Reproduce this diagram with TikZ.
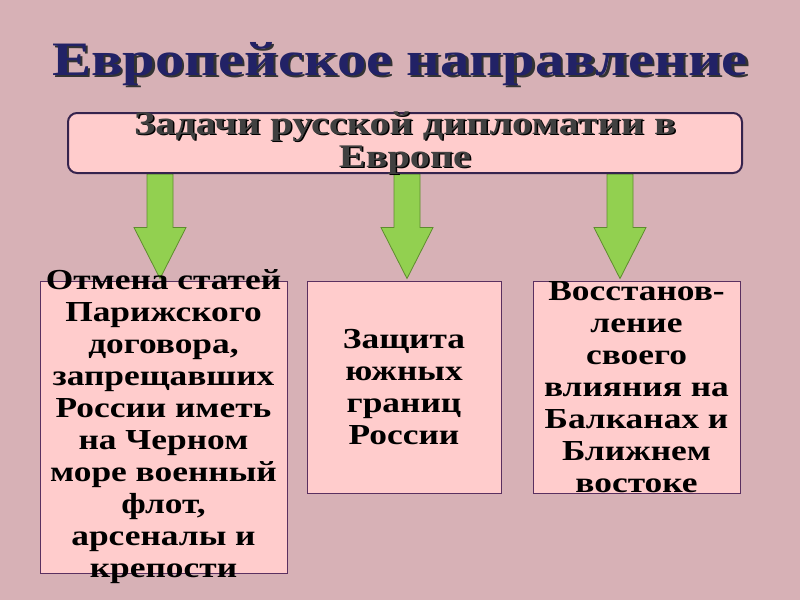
\documentclass[tikz,border=0pt]{standalone}
\usepackage{fontspec}
\newfontfamily\slidefont{Liberation Serif}[FakeStretch=1.22]
\usetikzlibrary{calc,backgrounds}
\definecolor{slidebg}{HTML}{D7B1B6}
\definecolor{boxfill}{HTML}{FFCCCC}
\definecolor{boxline}{HTML}{5A3060}
\definecolor{taskline}{HTML}{35234D}
\definecolor{titleblue}{HTML}{222266}
\definecolor{tasktext}{HTML}{404040}
\definecolor{arrowfill}{HTML}{92D050}
\definecolor{arrowline}{HTML}{5E8C2E}
\begin{document}
\begin{tikzpicture}
[x=1pt,y=-1pt,
  titledecorate/.style={anchor=base,inner sep=0pt,font=\slidefont\bfseries\fontsize{48}{52}\selectfont},%
  taskdecorate/.style={shape=rectangle,rounded corners=9pt,draw=taskline,line width=2pt,fill=boxfill,
    minimum width=674pt,minimum height=60pt,inner sep=0pt},%
  tasktextdecorate/.style={align=center,inner sep=0pt,font=\slidefont\bfseries\fontsize{33}{33}\selectfont},%
  goaldecorate/.style={shape=rectangle,draw=boxline,line width=0.9pt,fill=boxfill,inner sep=0pt},%
  goaltextdecorate/.style={align=center,inner sep=0pt,font=\slidefont\bfseries\fontsize{29}{32}\selectfont},%
  arrowdecorate/.style={fill=arrowfill,draw=arrowline,line width=0.8pt,line join=miter},%
  scale=1]
\useasboundingbox (0,0) rectangle (800,600);
%% title
\node (titleshadow) at (402.5,77.5) [titledecorate,text=black!80] {Европейское направление};
\node (title) at (400,75) [titledecorate,text=titleblue] {Европейское направление};
%% top box
\node (task) at (405,143) [taskdecorate] {};
\node (taskshadow) at ([shift={(1.5,1.5)}]task.center) [tasktextdecorate,text=black] {Задачи русской дипломатии в\\Европе};
\node (tasklabel) at (task.center) [tasktextdecorate,text=tasktext] {Задачи русской дипломатии в\\Европе};
%% boxes
\foreach \nodename/\x/\y/\w/\h in {goal1/163.5/427/247/292, goal2/404/387/194/212, goal3/636.5/387/207/212} {
  \node (\nodename) at (\x,\y) [goaldecorate,minimum width=\w pt,minimum height=\h pt] {};
}
\node (goal1label) at (goal1.center) [goaltextdecorate] {Отмена статей\\Парижского\\договора,\\запрещавших\\России иметь\\на Черном\\море военный\\флот,\\арсеналы и\\крепости};
\node (goal2label) at (goal2.center) [goaltextdecorate] {Защита\\южных\\границ\\России};
\node (goal3label) at (goal3.center) [goaltextdecorate] {Восстанов-\\ление\\своего\\влияния на\\Балканах и\\Ближнем\\востоке};
%% background and arrows
\begin{scope}[on background layer]
\fill[slidebg] (0,0) rectangle (800,600);
\foreach \nodename/\x in {goal1/160, goal2/407, goal3/620} {
  \coordinate (col\nodename) at (\x,0);
  \draw[arrowdecorate] let \p1=(task.south -| col\nodename), \p2=(\nodename.north -| col\nodename) in
    (\x1-13pt,\y1) -- (\x1-13pt,\y2+53pt) -- (\x1-26pt,\y2+53pt) -- (\x2,\y2+2pt)
    -- (\x1+26pt,\y2+53pt) -- (\x1+13pt,\y2+53pt) -- (\x1+13pt,\y1) -- cycle;
}
\end{scope}
\end{tikzpicture}
\end{document}
